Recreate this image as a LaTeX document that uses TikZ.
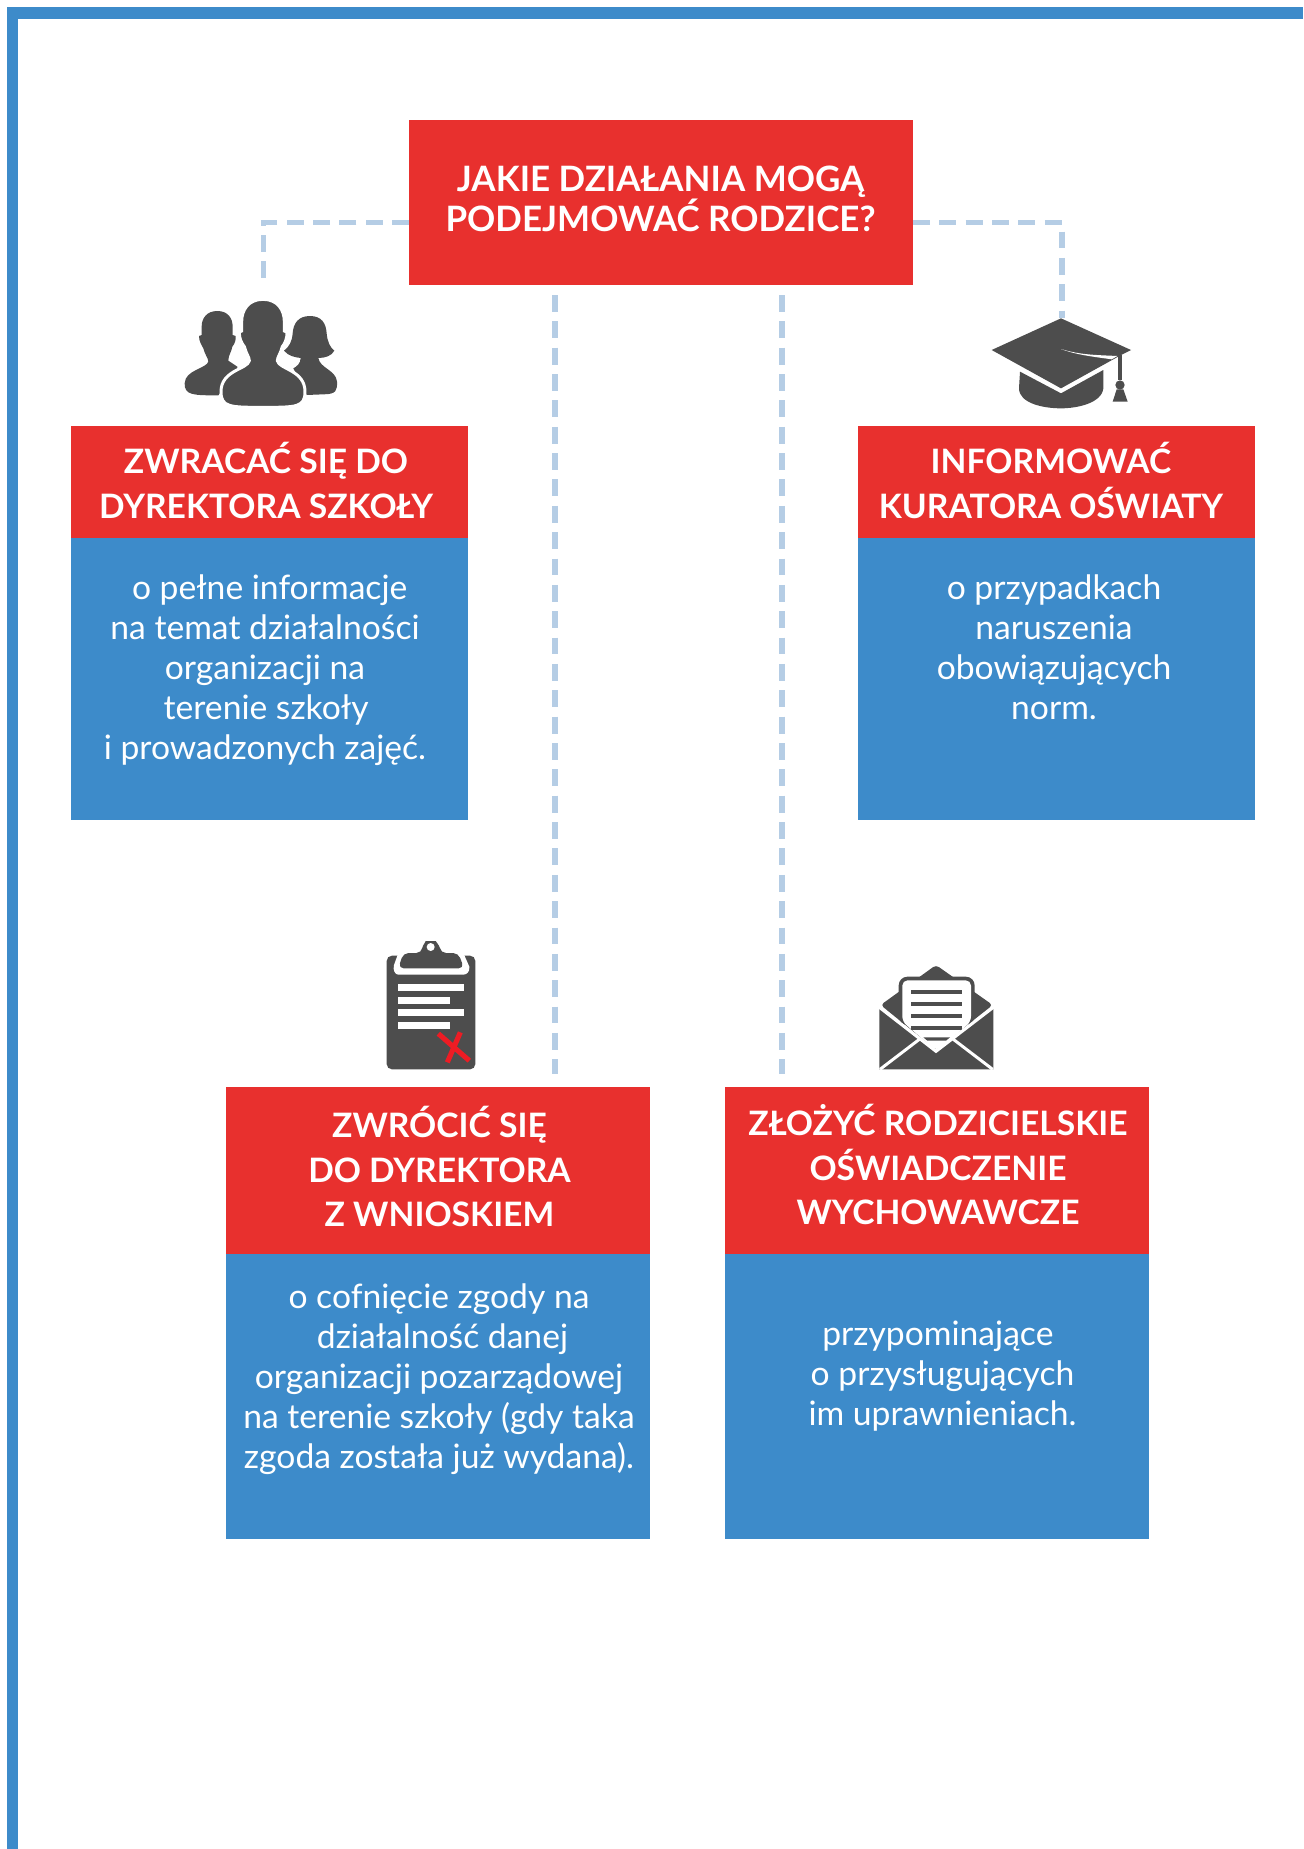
\documentclass[tikz,border=0pt]{standalone}
\usepackage{fontspec}
\setmainfont{Lato}
\definecolor{bblue}{HTML}{3D8BCA}
\definecolor{rred}{HTML}{E8302E}
\definecolor{dashc}{HTML}{B5CDE5}
\definecolor{icon}{HTML}{4D4D4D}
\definecolor{xred}{HTML}{ED1C24}
\tikzset{
 redbox/.style={fill=rred,draw=none,inner sep=0pt,outer sep=0pt,anchor=north west},
 bluebox/.style={fill=bblue,draw=none,inner sep=0pt,outer sep=0pt,anchor=north west},
 headtxt/.style={text=white,align=center,inner sep=0pt,font=\fontsize{19.15}{25.5}\selectfont\bfseries},
 toptxt/.style={text=white,align=center,inner sep=0pt,font=\fontsize{19.9}{22.7}\selectfont\bfseries},
 bodytxt/.style={text=white,align=center,inner sep=0pt,font=\fontsize{19.15}{22.75}\selectfont},
 dashline/.style={dashc,line width=3.2pt,dash pattern=on 9.6pt off 5.4pt},
 icn/.style={fill=icon,draw=none},
 zoomed/.style={xscale=0.33333,yscale=0.33333},
}
\begin{document}
\begin{tikzpicture}[x=0.02cm,y=-0.02cm]
\useasboundingbox (0,0) rectangle (1303,1849);
\fill[white] (0,0) rectangle (1303,1849);
% frame
\fill[bblue] (7,7) rectangle (1303,19);
\fill[bblue] (7,7) rectangle (18,1849);
% boxes
\node[redbox,minimum width=504*0.02cm,minimum height=165*0.02cm] (q) at (409,120) {};
\node[toptxt] (qt) at (660.5,198.5) {JAKIE DZIAŁANIA MOGĄ\\PODEJMOWAĆ RODZICE?};

\node[redbox,minimum width=397*0.02cm,minimum height=112*0.02cm] (h1) at (71,426) {};
\node[bluebox,minimum width=397*0.02cm,minimum height=282*0.02cm] (b1) at (71,538) {};
\node[headtxt] (h1t) at (266,480.5) {ZWRACAĆ SIĘ DO\\DYREKTORA SZKOŁY};
\node[bodytxt] (b1t) at (265,670.5) {\hspace*{5.3pt}o pełne informacje\\na temat działalności\\organizacji na\\\hspace*{1.3pt}terenie szkoły\\i prowadzonych zajęć.};

\node[redbox,minimum width=397*0.02cm,minimum height=112*0.02cm] (h2) at (858,426) {};
\node[bluebox,minimum width=397*0.02cm,minimum height=282*0.02cm] (b2) at (858,538) {};
\node[headtxt] (h2t) at (1051,480.5) {INFORMOWAĆ\\KURATORA OŚWIATY};
\node[bodytxt] (b2t) at (1054,647.5) {o przypadkach\\naruszenia\\obowiązujących\hspace*{4pt}\\norm.};

\node[redbox,minimum width=424*0.02cm,minimum height=167*0.02cm] (h3) at (226,1087) {};
\node[bluebox,minimum width=424*0.02cm,minimum height=285*0.02cm] (b3) at (226,1254) {};
\node[headtxt] (h3t) at (439.5,1166.5) {ZWRÓCIĆ SIĘ\\DO DYREKTORA\\Z WNIOSKIEM};
\node[bodytxt] (b3t) at (439,1379.5) {o cofnięcie zgody na\\\hspace*{4pt}działalność danej\\organizacji pozarządowej\\na terenie szkoły (gdy taka\\zgoda została już wydana).};

\node[redbox,minimum width=424*0.02cm,minimum height=167*0.02cm] (h4) at (725,1087) {};
\node[bluebox,minimum width=424*0.02cm,minimum height=285*0.02cm] (b4) at (725,1254) {};
\node[headtxt] (h4t) at (938,1164.5) {ZŁOŻYĆ RODZICIELSKIE\\OŚWIADCZENIE\\WYCHOWAWCZE};
\node[bodytxt] (b4t) at (942.5,1376.5) {przypominające\hspace*{5.3pt}\\o przysługujących\\im uprawnieniach.};

% connectors
\coordinate (qL) at (409,222.5);
\coordinate (qR) at (913,222.5);
\coordinate (pL) at (263.5,287);
\coordinate (pR) at (1062,318);
\coordinate (c1a) at (555,295);
\coordinate (c1b) at (555,1074);
\coordinate (c2a) at (782,295);
\coordinate (c2b) at (782,1074);
\draw[dashline] (qL) -| (pL);
\draw[dashline] (qR) -| (pR);
\draw[dashline] (c1a) -- (c1b);
\draw[dashline] (c2a) -- (c2b);

% people icon
\begin{scope}[shift={(150,270)},zoomed]
\fill[icn] (202,123) .. controls (170,123) and (155,145) .. (155,170) -- (155,195) -- (147,198)
 .. controls (147,215) and (155,225) .. (160,235) .. controls (165,255) and (175,265) .. (175,275)
 .. controls (170,295) and (105,300) .. (104,340) .. controls (103,376) and (130,376) .. (205,376)
 -- (262,300) -- (262,290) -- (235,272) .. controls (235,255) and (245,245) .. (247,230)
 .. controls (255,220) and (258,210) .. (257,198) -- (248,195) -- (248,170)
 .. controls (248,145) and (234,123) .. (202,123) -- cycle;
\fill[icn] (480,138) .. controls (445,138) and (430,160) .. (428,190)
 .. controls (426,215) and (418,230) .. (402,242) .. controls (415,258) and (435,262) .. (452,264)
 .. controls (452,280) and (440,290) .. (430,295) -- (470,375) -- (520,373)
 .. controls (560,373) and (562,360) .. (561,335) .. controls (558,300) and (510,295) .. (505,264)
 .. controls (525,264) and (545,258) .. (553,242) .. controls (540,232) and (532,215) .. (530,190)
 .. controls (528,160) and (515,138) .. (480,138) -- cycle;
\path[fill=icon,draw=white,line width=1.7pt] (339,88) .. controls (295,88) and (275,120) .. (275,155)
 -- (275,183) -- (268,186) .. controls (267,205) and (275,220) .. (283,230)
 .. controls (288,250) and (298,262) .. (298,272)
 .. controls (293,298) and (213,300) .. (213,365) .. controls (213,412) and (240,412) .. (339,412)
 .. controls (440,412) and (465,412) .. (465,365) .. controls (465,300) and (387,298) .. (382,272)
 .. controls (382,262) and (392,250) .. (397,230) .. controls (405,220) and (412,205) .. (411,186)
 -- (403,183) -- (403,155) .. controls (403,120) and (383,88) .. (339,88) -- cycle;
\end{scope}

% graduation cap
\begin{scope}[shift={(960,290)},zoomed]
\fill[icn] (180,245) -- (303,310) -- (430,240) -- (430,295)
 .. controls (425,340) and (350,355) .. (303,355) .. controls (250,355) and (177,340) .. (177,295) -- cycle;
\fill[icn] (303,85) -- (513,180) -- (487,193) -- (303,295) -- (95,180) -- cycle;
\fill[white] (303,177) .. controls (360,195) and (410,195) .. (472,198) -- (455,208) .. controls (400,200) and (350,195) .. (303,177) -- cycle;
\fill[icn] (474,195) rectangle (487,270);
\fill[icn] (480,285) circle[radius=14];
\fill[icn] (470,298) -- (490,298) -- (503,335) -- (458,335) -- cycle;
\end{scope}

% clipboard
\begin{scope}[shift={(370,925)},zoomed]
\fill[icn,rounded corners=3pt] (50,92) rectangle (316,433);
\fill[white] (85,84) -- (280,84) -- (298,125) .. controls (300,140) and (290,149) .. (280,149) -- (85,149) .. controls (75,149) and (68,135) .. (72,120) -- cycle;
\fill[icn,rounded corners=3pt] (100,84) -- (155,84) .. controls (158,60) and (170,48) .. (182,48) .. controls (195,48) and (208,60) .. (212,84) -- (265,84) -- (282,130) -- (85,130) -- cycle;
\fill[white] (182,66) circle[radius=12];
\fill[white] (85,176) rectangle (281,198);
\fill[white] (85,215) rectangle (240,236);
\fill[white] (85,253) rectangle (281,273);
\fill[white] (85,291) rectangle (240,312);
\draw[xred,line width=2.9pt] (205,326) -- (298,407);
\draw[xred,line width=2.9pt] (271,322) -- (232,412);
\end{scope}

% envelope
\begin{scope}[shift={(860,950)},zoomed]
\fill[icn,rounded corners=2pt] (62,165) -- (228,45) -- (398,165) -- (228,300) -- cycle;
\fill[icn,rounded corners=5pt] (116,80) rectangle (344,225);
\fill[white,rounded corners=3pt] (127,91) -- (333,91) -- (333,215) -- (230,303) -- (127,215) -- cycle;
\fill[icn] (153,120) rectangle (306,133);
\fill[icn] (153,156) rectangle (306,169);
\fill[icn] (153,192) rectangle (306,205);
\fill[icn] (153,228) rectangle (306,240);
\fill[icn] (190,262) -- (270,262) -- (258,272) -- (202,272) -- cycle;
\fill[icn] (58,176) -- (228,305) -- (400,176) -- (400,358) -- (58,358) -- cycle;
\draw[white,line width=1.7pt] (58,172) -- (228,304) -- (400,172);
\draw[white,line width=1.7pt] (60,358) -- (178,268);
\draw[white,line width=1.7pt] (398,358) -- (280,268);
\end{scope}
\end{tikzpicture}
\end{document}
